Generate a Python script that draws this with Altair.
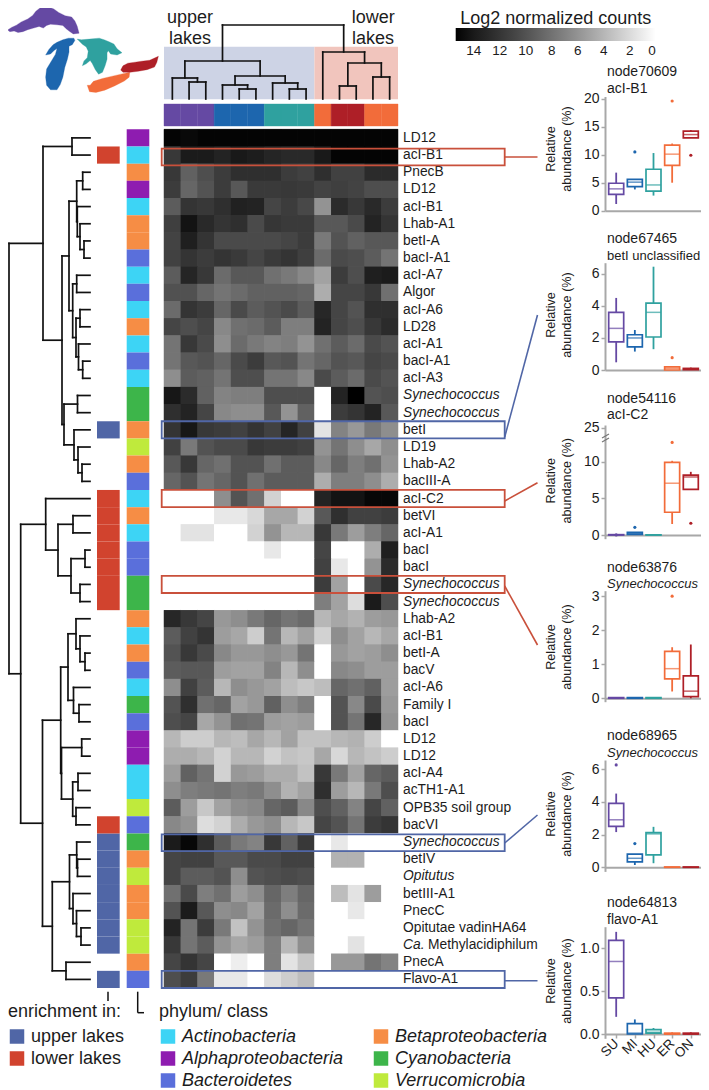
import altair as alt
import pandas as pd

# ---------- lakes ----------
LAKES = ["SU", "MI", "HU", "ER", "ON"]
LAKE_COLORS = ["#6549A3", "#1D66AE", "#2FA19F", "#F26C3A", "#AE1F27"]
OUTLINE_SU = [[8,80],[20,72],[35,65],[50,55],[70,46],[85,35],[95,22],[108,12],[118,3],[130,8],[150,15],[165,26],[185,36],[205,40],[215,52],[222,68],[228,90],[210,92],[198,84],[188,76],[178,66],[160,64],[140,62],[128,66],[118,74],[105,69],[88,74],[70,79],[55,85],[40,88],[28,83],[15,85],[8,80]]
OUTLINE_MI = [[212,105],[195,105],[178,110],[160,118],[148,125],[135,140],[125,157],[140,154],[152,142],[160,137],[155,155],[140,180],[128,200],[125,225],[128,250],[140,264],[160,264],[170,248],[178,225],[184,195],[192,170],[197,148],[197,130],[207,125],[215,112],[212,105]]
OUTLINE_HU = [[222,108],[235,110],[260,108],[290,105],[305,110],[320,116],[335,123],[345,138],[360,150],[345,157],[325,154],[318,144],[314,150],[314,170],[308,190],[300,210],[288,216],[278,202],[268,182],[262,174],[250,184],[238,190],[243,175],[253,165],[256,145],[250,132],[238,124],[222,108]]
OUTLINE_ER = [[253,250],[262,250],[272,238],[300,229],[330,222],[360,215],[384,210],[382,225],[367,237],[337,252],[307,265],[280,272],[260,270],[253,250]]
OUTLINE_ON = [[356,203],[363,190],[378,182],[400,179],[420,176],[445,173],[472,161],[467,180],[460,194],[437,202],[410,207],[385,210],[363,210],[356,203]]
OUTLINES = [OUTLINE_SU, OUTLINE_MI, OUTLINE_HU, OUTLINE_ER, OUTLINE_ON]

# ---------- heatmap ----------
COLUMN_LAKE = ["SU","SU","SU","MI","MI","MI","HU","HU","HU","ER","ON","ON","ER","ER"]
ROW_LABELS = ["LD12","acI-B1","PnecB","LD12","acI-B1","Lhab-A1","betI-A","bacI-A1","acI-A7","Algor","acI-A6","LD28",
              "acI-A1","bacI-A1","acI-A3","Synechococcus","Synechococcus","betI","LD19","Lhab-A2","bacIII-A","acI-C2",
              "betVI","acI-A1","bacI","bacI","Synechococcus","Synechococcus","Lhab-A2","acI-B1","betI-A","bacV","acI-A6",
              "Family I","bacI","LD12","LD12","acI-A4","acTH1-A1","OPB35 soil group","bacVI","Synechococcus","betIV",
              "Opitutus","betIII-A1","PnecC","Opitutae vadinHA64","Ca.","PnecA","Flavo-A1"]
ITALIC_LABELS = ["Synechococcus", "Opitutus", "Ca."]
# grey level read from each cell, 0 black - 255 white
SHADES = [
 [3,6,3,3,3,3,3,3,3,3,3,3,3,3],
 [60,25,25,35,22,28,38,42,42,22,3,3,3,3],
 [60,105,85,65,50,50,50,65,70,50,70,70,45,45],
 [65,110,90,65,95,62,62,60,62,72,68,72,85,85],
 [100,55,60,50,32,35,75,65,78,155,45,60,42,65],
 [68,15,42,55,50,80,58,62,62,95,95,80,35,55],
 [72,30,55,80,80,80,80,75,65,130,90,105,95,95],
 [70,55,65,55,62,75,62,55,68,115,80,85,100,125],
 [100,38,60,115,95,95,120,130,145,170,65,85,30,25],
 [88,88,110,125,115,105,105,105,110,180,75,75,60,120],
 [115,55,65,110,80,100,90,80,100,40,75,90,50,50],
 [75,85,75,145,120,115,100,135,135,35,75,85,60,45],
 [125,60,80,150,115,130,140,135,155,120,100,115,80,90],
 [125,95,90,110,80,65,95,90,125,110,90,95,75,80],
 [150,100,105,125,85,85,125,125,145,80,100,115,80,90],
 [20,45,105,140,135,135,85,85,85,255,35,0,90,85],
 [50,35,75,145,150,150,95,155,105,255,65,55,35,95],
 [55,20,60,65,70,55,70,38,70,230,140,160,130,150],
 [70,130,90,80,80,60,65,65,70,155,125,150,175,150],
 [95,60,110,120,90,90,120,100,100,145,110,135,120,155],
 [110,90,125,110,90,120,100,100,100,180,135,135,150,180],
 [255,255,255,150,90,120,215,255,255,35,15,15,5,5],
 [255,255,255,235,235,220,175,175,215,95,50,70,70,65],
 [255,230,230,255,255,215,155,190,190,60,130,165,135,110],
 [255,255,255,255,255,255,235,255,255,75,255,255,180,30],
 [255,255,255,255,255,255,255,255,255,70,235,255,155,45],
 [255,255,255,255,255,255,255,255,255,65,170,255,80,40],
 [255,255,255,255,255,255,255,255,255,135,170,225,25,85],
 [40,60,75,160,150,130,110,125,115,190,175,185,165,160],
 [100,70,55,165,175,210,125,190,170,215,150,170,190,175],
 [90,60,80,145,160,160,150,160,125,255,160,170,165,150],
 [100,95,95,165,170,170,140,190,150,255,145,150,165,165],
 [150,70,100,190,150,160,170,195,205,195,110,120,105,165],
 [90,50,120,110,170,160,105,150,135,255,90,145,80,160],
 [85,75,175,155,120,125,165,170,165,255,90,125,40,155],
 [190,210,210,190,195,175,190,170,200,200,190,185,210,255],
 [180,180,190,215,190,190,215,200,205,175,220,190,200,210],
 [165,105,125,215,160,165,180,180,200,60,130,170,110,100],
 [150,135,130,125,135,130,150,185,170,50,165,190,130,85],
 [100,165,205,170,150,145,110,100,145,85,105,140,75,105],
 [145,155,225,215,180,160,150,190,205,75,90,125,65,55],
 [25,5,50,100,130,140,60,105,60,255,235,255,255,255],
 [75,70,70,95,95,80,80,70,70,255,185,185,255,255],
 [75,100,100,90,150,90,85,80,85,255,255,255,255,255],
 [120,80,135,120,165,150,110,135,110,255,195,230,165,255],
 [90,25,95,150,145,170,115,150,115,255,255,235,255,255],
 [35,125,65,130,200,155,120,110,125,255,255,255,255,255],
 [60,125,100,155,175,165,135,190,150,255,255,230,255,255],
 [75,55,75,255,240,255,135,230,205,255,160,160,125,140],
 [85,65,130,235,235,255,225,210,195,255,255,255,255,255],
]
COUNTS_MAX = 15.4
LEGEND_TICKS = [14, 12, 10, 8, 6, 4, 2, 0]

PHYLA = ["Actinobacteria", "Alphaproteobacteria", "Bacteroidetes", "Betaproteobacteria", "Cyanobacteria", "Verrucomicrobia"]
PHYLA_COLORS = ["#3DD4F5", "#8E1CB0", "#5A6FDB", "#F68D45", "#3DB54A", "#BFEA3C"]
ROW_PHYLUM = [1,0,3,1,0,3,3,2,0,2,0,3,0,2,0,4,4,3,5,3,2,0,3,0,2,2,4,4,3,0,3,2,0,4,2,1,1,0,0,5,2,4,3,5,3,3,5,5,3,2]
ENRICH = ["upper lakes", "lower lakes"]
ENRICH_COLORS = ["#5066A6", "#D1432E"]
ENRICH_ROWS_UPPER = [17, 41, 42, 43, 44, 45, 46, 47, 49]
ENRICH_ROWS_LOWER = [1, 21, 22, 23, 24, 25, 26, 27, 40]

# dendrograms: (merge distance, child, child); integers are leaves
ROW_TREE = (81,
  (47, (18, 0, 1),
   (28,
    (21, (13.3, (7.3, 2, 3), (12.7, 4, (10, 5, (6, 6, 7)))),
         (17.3, (13.3, 8, 9), (14, (10, 10, 11), (11.5, 12, (7.3, 13, 14))))),
    (26, (12.5, 15, 16), (16, 17, (12, 18, (8, 19, 20)))))),
  (69.3,
   (44.3, 21, (32, (17, 22, 23), (19, (5, 24, 25), (10, 26, 27)))),
   (47.5,
    (29.3,
     (22, (14, 28, (10, 29, (5, 30, 31))), (16.5, 32, (11, 33, 34))),
     (28.5, (8.3, 35, 36), (17.3, (12, 37, 38), (14, 39, 40)))),
    (37.7,
     (20.5, (13.3, 41, (12.5, 42, 43)), (17, 44, (13.5, 45, (9, 46, 47)))),
     (24, 48, 49)))))
COL_TREE = (74,
  (38, (21, 0, (17, 1, 2)), (23, (14, 3, (10, 4, 5)), (16, 6, (10, 7, 8)))),
  (47, 9, (36, (13, 10, 11), (22, 12, 13))))

# ---------- box panels: low whisker, q1, median, q3, high whisker per lake ----------
P1 = dict(name="node70609", sub="acI-B1", ital=False, ticks=[0,5,10,15,20], dom=[0,20.4], rng=[210.7,96.5],
  low=[1.2,3.8,2.7,5.0,13.0], q1=[2.9,4.3,3.5,8.1,13.0], med=[3.9,5.1,4.6,10.1,13.6], q3=[4.9,5.6,7.4,11.7,14.2], high=[6.8,5.6,10.3,12.0,14.4],
  out=[("MI",10.5),("ER",19.6),("ON",9.9)], ty=[76,92.7], ly=149)
P2 = dict(name="node67465", sub="betI unclassified", ital=False, ticks=[0,2,4,6], dom=[0,6.7], rng=[370,262.7],
  low=[0.48,1.15,1.3,0,0], q1=[1.75,1.44,2.06,0,0.02], med=[2.6,2.0,3.6,0.1,0.05], q3=[3.6,2.2,4.17,0.2,0.1], high=[4.5,2.5,6.45,0.25,0.15],
  out=[("ER",0.77)], ty=[242.7,260], ly=315)
P3 = dict(name="node54116", sub="acI-C2", ital=False, ticks=[0,5,10,25], dom=[-0.5,13,25,25.3], rng=[538.7,439.5,427.7,425],
  low=[0,0,0,1.5,6.2], q1=[0,0.1,0,3.1,6.2], med=[0.02,0.25,0.01,7.05,7.9], q3=[0.05,0.35,0.02,9.9,8.15], high=[0.05,0.4,0.05,10.1,8.6],
  out=[("SU",0.02),("MI",1.05),("ER",12.6),("ON",1.6)], ty=[403.3,419.3], ly=480.7)
P4 = dict(name="node63876", sub="Synechococcus", ital=True, ticks=[0,1,2,3], dom=[-0.1,3.16], rng=[701.7,590.7],
  low=[0,0,0,0.2,0], q1=[0,0,0,0.57,0.05], med=[0.01,0.01,0.01,0.87,0.21], q3=[0.02,0.02,0.02,1.38,0.66], high=[0.03,0.03,0.03,1.5,1.58],
  out=[("ER",3.0)], ty=[571.7,588.3], ly=647)
P5 = dict(name="node68965", sub="Synechococcus", ital=True, ticks=[0,2,4,6], dom=[-0.25,6.55], rng=[871.4,760],
  low=[2.15,0.14,0.25,0,0], q1=[2.5,0.33,0.76,0,0], med=[2.9,0.55,2.04,0,0], q3=[3.9,0.8,2.12,0.02,0.02], high=[4.5,0.8,2.47,0.03,0.03],
  out=[("SU",6.25),("MI",1.45)], ty=[740,757.3], ly=814)
P6 = dict(name="node64813", sub="flavo-A1", ital=False, ticks=[0,0.5,1], dom=[-0.05,1.25], rng=[1038.3,926.7],
  low=[0.2,0,0,0,0], q1=[0.42,0,0.01,0,0], med=[0.845,0.01,0.02,0,0], q3=[1.09,0.12,0.05,0.01,0.01], high=[1.19,0.17,0.07,0.02,0.02],
  out=[], ty=[907.3,924], ly=981)
PANELS = [P1, P2, P3, P4, P5, P6]

# ---------- layout (page coordinates of the reference) ----------
W, H = 693, 1082
OX, OY = 8, 8
HEAT_X = [164 - OX, 398 - OX]
HEAT_Y = [129.3 - OY, 988 - OY]
BOX_X = [605 - OX, 702 - OX]
RED, BLUE = "#C9503B", "#5066A6"
INK = "#1c1c1c"
AXIS_GREY = "#A8A8A8"


def S(dom, rng, **kw):
    return alt.Scale(domain=dom, range=rng, nice=False, zero=False, **kw)


PX = S([OX, OX + W], [0, W])
PY = S([OY, OY + H], [0, H])
COLX = S([0, 14], HEAT_X)
ROWY = S([0, 50], HEAT_Y)


def tree_segments(node, out):
    if isinstance(node, int):
        return node + 0.5, 0
    d, a, b = node
    pa, da = tree_segments(a, out)
    pb, db = tree_segments(b, out)
    out.append(dict(p1=pa, p2=pb, d1=d, d2=d))
    out.append(dict(p1=pa, p2=pa, d1=da, d2=d))
    out.append(dict(p1=pb, p2=pb, d1=db, d2=d))
    return (pa + pb) / 2, d


def text_layer(rows, size, italic=False, angle=0, align="left", color=INK):
    df = pd.DataFrame(rows, columns=["t", "x", "y"])
    kw = dict(fontSize=size, align=align, baseline="alphabetic", color=color)
    if italic:
        kw["fontStyle"] = "italic"
    if angle:
        kw["angle"] = angle
    return alt.Chart(df).mark_text(**kw).encode(
        x=alt.X("x:Q", scale=PX, axis=None), y=alt.Y("y:Q", scale=PY, axis=None), text="t:N")


layers = []

# lakes
features = [dict(type="Feature", properties=dict(lake=n), geometry=dict(type="Polygon", coordinates=[o]))
            for n, o in zip(LAKES, OUTLINES)]
layers.append(alt.Chart(alt.Data(values=features)).mark_geoshape(strokeWidth=0.3).encode(
    color=alt.Color("properties.lake:N", scale=alt.Scale(domain=LAKES, range=LAKE_COLORS), legend=None),
    stroke=alt.Stroke("properties.lake:N", scale=alt.Scale(domain=LAKES, range=LAKE_COLORS), legend=None)
).project(type="identity", scale=0.325, translate=[-3, -4]))

# tinted background of the sample dendrogram
tint = pd.DataFrame(dict(c0=[0, 9], c1=[9, 14], k=["upper lakes", "lower lakes"]))
layers.append(alt.Chart(tint).mark_rect().encode(
    x=alt.X("c0:Q", scale=COLX, axis=None), x2="c1:Q",
    y=alt.value(46.7 - OY), y2=alt.value(99.3 - OY),
    color=alt.Color("k:N", scale=alt.Scale(domain=ENRICH, range=["#CDD3E5", "#F1C5BD"]), legend=None)))

# sample dendrogram
seg = []
tree_segments(COL_TREE, seg)
layers.append(alt.Chart(pd.DataFrame(seg)).mark_rule(color="#111111", strokeWidth=1.7, strokeCap="square").encode(
    x=alt.X("p1:Q", scale=COLX, axis=None), x2="p2:Q",
    y=alt.Y("d1:Q", scale=S([0, 74], [99 - OY, 25 - OY]), axis=None), y2="d2:Q"))

# lake colour strip
strip = pd.DataFrame(dict(c0=list(range(14)), c1=list(range(1, 15)), lake=COLUMN_LAKE))
layers.append(alt.Chart(strip).mark_rect(strokeWidth=0.4).encode(
    x=alt.X("c0:Q", scale=COLX, axis=None), x2="c1:Q",
    y=alt.value(104 - OY), y2=alt.value(126 - OY),
    color=alt.Color("lake:N", scale=alt.Scale(domain=LAKES, range=LAKE_COLORS), legend=None),
    stroke=alt.Stroke("lake:N", scale=alt.Scale(domain=LAKES, range=LAKE_COLORS), legend=None)))

# heatmap with the gradient legend
cells = pd.DataFrame([dict(c0=c, c1=c + 1, r0=r, r1=r + 1, v=round((255 - g) / 255 * COUNTS_MAX, 2))
                      for r, row in enumerate(SHADES) for c, g in enumerate(row)])
heat_scale = alt.Scale(domain=[COUNTS_MAX, 0], range=["#000000", "#ffffff"], nice=False, zero=False)
layers.append(alt.Chart(cells).mark_rect(strokeWidth=0.5).encode(
    x=alt.X("c0:Q", scale=COLX, axis=None), x2="c1:Q",
    y=alt.Y("r0:Q", scale=ROWY, axis=None), y2="r1:Q",
    color=alt.Color("v:Q", scale=heat_scale, legend=None),
    stroke=alt.Stroke("v:Q", scale=heat_scale, legend=None)))
layers.append(alt.Chart(cells).mark_rect().encode(
    x=alt.X("c0:Q", scale=COLX, axis=None), x2="c1:Q",
    y=alt.Y("r0:Q", scale=ROWY, axis=None), y2="r1:Q",
    color=alt.Color("v:Q", scale=heat_scale, legend=alt.Legend(
        type="gradient", orient="none", legendX=455.7 - OX, legendY=2, title="Log2 normalized counts", direction="horizontal",
        values=LEGEND_TICKS, gradientLength=200, gradientThickness=13, gradientStrokeWidth=0,
        titleFontSize=18, titleFontWeight="normal", titleColor=INK, titleAnchor="middle", titlePadding=0, titleLimit=320,
        labelFontSize=13.5, labelColor=INK, labelOffset=3, labelAlign="center"))))

# side strips
rows_phy = pd.DataFrame(dict(r0=list(range(50)), r1=list(range(1, 51)), p=[PHYLA[i] for i in ROW_PHYLUM]))
layers.append(alt.Chart(rows_phy).mark_rect().encode(
    x=alt.value(126.7 - OX), x2=alt.value(149.3 - OX),
    y=alt.Y("r0:Q", scale=ROWY, axis=None), y2="r1:Q",
    color=alt.Color("p:N", scale=alt.Scale(domain=PHYLA, range=PHYLA_COLORS), legend=alt.Legend(
        orient="none", legendX=159 - OX, legendY=1002.5 - OY, title="phylum/ class", columns=2, direction="vertical",
        titleFontSize=18, titleFontWeight="normal", titleColor=INK, titlePadding=7,
        labelFontSize=18, labelFontStyle="italic", labelColor=INK, labelOffset=5, labelLimit=260,
        symbolType="square", symbolSize=210, symbolStrokeWidth=0, symbolOpacity=1,
        rowPadding=4, columnPadding=28))))
er = [dict(r0=r, r1=r + 1, e=ENRICH[0]) for r in ENRICH_ROWS_UPPER] + [dict(r0=r, r1=r + 1, e=ENRICH[1]) for r in ENRICH_ROWS_LOWER]
layers.append(alt.Chart(pd.DataFrame(er)).mark_rect().encode(
    x=alt.value(97 - OX), x2=alt.value(119.7 - OX),
    y=alt.Y("r0:Q", scale=ROWY, axis=None), y2="r1:Q",
    color=alt.Color("e:N", scale=alt.Scale(domain=ENRICH, range=ENRICH_COLORS), legend=alt.Legend(
        orient="none", legendX=0, legendY=1002.5 - OY, title="enrichment in:",
        titleFontSize=18, titleFontWeight="normal", titleColor=INK, titlePadding=7,
        labelFontSize=18, labelColor=INK, labelOffset=5,
        symbolType="square", symbolSize=210, symbolStrokeWidth=0, symbolOpacity=1, rowPadding=4))))

# taxa dendrogram
seg = []
tree_segments(ROW_TREE, seg)
layers.append(alt.Chart(pd.DataFrame(seg)).mark_rule(color="#111111", strokeWidth=1.7, strokeCap="square").encode(
    x=alt.X("d1:Q", scale=S([0, 86], [90 - OX, 4 - OX]), axis=None), x2="d2:Q",
    y=alt.Y("p1:Q", scale=ROWY, axis=None), y2="p2:Q"))

# row labels
labels = pd.DataFrame(dict(label=ROW_LABELS, r=[i + 0.5 for i in range(50)]))
for italic in (False, True):
    sub = labels[labels.label.isin(ITALIC_LABELS) == italic]
    kw = dict(fontStyle="italic") if italic else {}
    layers.append(alt.Chart(sub).mark_text(fontSize=13.8, align="left", baseline="middle", color=INK,
                                           x=403 - OX, **kw).encode(
        y=alt.Y("r:Q", scale=ROWY, axis=None), text="label:N"))
layers.append(alt.Chart(pd.DataFrame(dict(label=["Methylacidiphilum"], r=[47.5]))).mark_text(
    fontSize=13.8, align="left", baseline="middle", color=INK, x=428 - OX).encode(
    y=alt.Y("r:Q", scale=ROWY, axis=None), text="label:N"))

# highlight boxes and connectors
hl = pd.DataFrame(dict(r0=[1.12, 17, 21, 26, 41.05, 49], r1=[2.1, 18, 22, 27, 42.03, 50], k=["r", "b", "r", "r", "b", "b"]))
hl_scale = alt.Scale(domain=["r", "b"], range=[RED, BLUE])
layers.append(alt.Chart(hl).mark_rect(fillOpacity=0, strokeWidth=1.8).encode(
    x=alt.value(161.7 - OX), x2=alt.value(504.7 - OX),
    y=alt.Y("r0:Q", scale=ROWY, axis=None), y2="r1:Q",
    stroke=alt.Stroke("k:N", scale=hl_scale, legend=None)))
conn = pd.DataFrame(dict(x1=[504.7] * 6, x2=[537.5] * 6, y1=[157, 437, 501, 586, 843, 980.7],
                         y2=[157, 315, 482.7, 645, 815, 980.7], k=["r", "b", "r", "r", "b", "b"]))
layers.append(alt.Chart(conn).mark_rule(strokeWidth=1.6).encode(
    x=alt.X("x1:Q", scale=PX, axis=None), x2="x2:Q",
    y=alt.Y("y1:Q", scale=PY, axis=None), y2="y2:Q",
    stroke=alt.Stroke("k:N", scale=hl_scale, legend=None)))

# small tick marks under the strips
ticks = pd.DataFrame(dict(x1=[108, 137.7, 137.7], x2=[108, 137.7, 144], y1=[991.7, 991.7, 1012.7], y2=[1001, 1012.7, 1012.7]))
layers.append(alt.Chart(ticks).mark_rule(strokeWidth=1.5, color="#111111").encode(
    x=alt.X("x1:Q", scale=PX, axis=None), x2="x2:Q",
    y=alt.Y("y1:Q", scale=PY, axis=None), y2="y2:Q"))

# free text
layers.append(text_layer([("upper", 167, 22.5), ("lakes", 169, 43.5), ("lower", 351.7, 22.5), ("lakes", 352, 43.5)], 18))

# box panels
TITLE_X = 607
for i, P in enumerate(PANELS):
    d = pd.DataFrame(dict(lake=LAKES, low=P["low"], q1=P["q1"], med=P["med"], q3=P["q3"], high=P["high"]))
    yr = [v - OY for v in P["rng"]]
    ysc = S(P["dom"], yr)
    xsc = alt.Scale(type="point", domain=LAKES, range=BOX_X, padding=0.6)
    col = alt.Color("lake:N", scale=alt.Scale(domain=LAKES, range=LAKE_COLORS), legend=None)
    stk = alt.Stroke("lake:N", scale=alt.Scale(domain=LAKES, range=LAKE_COLORS), legend=None)
    y0_px = P["rng"][0] if P["dom"][0] == 0 else None
    if y0_px is None:  # page position of value 0 on the axis
        y0_px = {2: 535.0, 3: 698.3, 4: 867.3, 5: 1034.0}[i]
    last = i == len(PANELS) - 1
    xaxis = alt.Axis(title=None, orient="bottom", offset=(y0_px - OY) - H, domainColor=AXIS_GREY, domainWidth=2,
                     ticks=last, tickColor=AXIS_GREY, tickSize=4, tickWidth=1.5, labels=last, grid=False,
                     labelAngle=315, labelAlign="right", labelBaseline="middle", labelFontSize=13.5, labelColor=INK, labelPadding=3)
    yaxis = alt.Axis(title=None, orient="left", offset=-BOX_X[0], values=P["ticks"], domainColor=AXIS_GREY, domainWidth=2,
                     tickColor=AXIS_GREY, tickSize=4, tickWidth=1.5, grid=False, labelFontSize=14, labelColor=INK, labelPadding=2,
                     format="~g" if not last else ".1f", labelOverlap=False)
    layers.append(alt.Chart(d).mark_rule(strokeWidth=1.8).encode(
        x=alt.X("lake:N", scale=xsc, axis=xaxis), y=alt.Y("low:Q", scale=ysc, axis=yaxis), y2="high:Q", stroke=stk))
    layers.append(alt.Chart(d).mark_bar(size=15, fill="white", strokeWidth=1.7).encode(
        x=alt.X("lake:N", scale=xsc, axis=None), y=alt.Y("q1:Q", scale=ysc, axis=None), y2="q3:Q", stroke=stk))
    layers.append(alt.Chart(d).mark_tick(size=15, thickness=1.5, orient="horizontal").encode(
        x=alt.X("lake:N", scale=xsc, axis=None), y=alt.Y("med:Q", scale=ysc, axis=None), color=col))
    if P["out"]:
        od = pd.DataFrame(P["out"], columns=["lake", "v"])
        layers.append(alt.Chart(od).mark_circle(size=10, opacity=1).encode(
            x=alt.X("lake:N", scale=xsc, axis=None), y=alt.Y("v:Q", scale=ysc, axis=None), color=col))
    layers.append(text_layer([(P["name"], TITLE_X, P["ty"][0])], 14))
    sub_size = 13 if len(P["sub"]) > 8 else 14  # the right page edge is close
    layers.append(text_layer([(P["sub"], TITLE_X, P["ty"][1])], sub_size, italic=P["ital"]))
    layers.append(text_layer([("Relative", 555, P["ly"]), ("abundance (%)", 571, P["ly"])], 12.6, angle=270, align="center"))

# axis break marks of the third panel
brk = pd.DataFrame(dict(x1=[602, 602], x2=[609, 609], y1=[438, 442], y2=[434, 438]))
layers.append(alt.Chart(brk).mark_rule(strokeWidth=1.2, color="#777777").encode(
    x=alt.X("x1:Q", scale=PX, axis=None), x2="x2:Q",
    y=alt.Y("y1:Q", scale=PY, axis=None), y2="y2:Q"))

chart = alt.layer(*layers).resolve_scale(
    x="independent", y="independent", color="independent", stroke="independent"
).resolve_axis(x="independent", y="independent").resolve_legend(color="independent").properties(
    width=W, height=H, padding=0, background="white", autosize=alt.AutoSizeParams(type="none")
).configure(font="Liberation Sans").configure_view(stroke=None)

chart.save("out.html", embed_options={"renderer": "svg", "actions": False})
